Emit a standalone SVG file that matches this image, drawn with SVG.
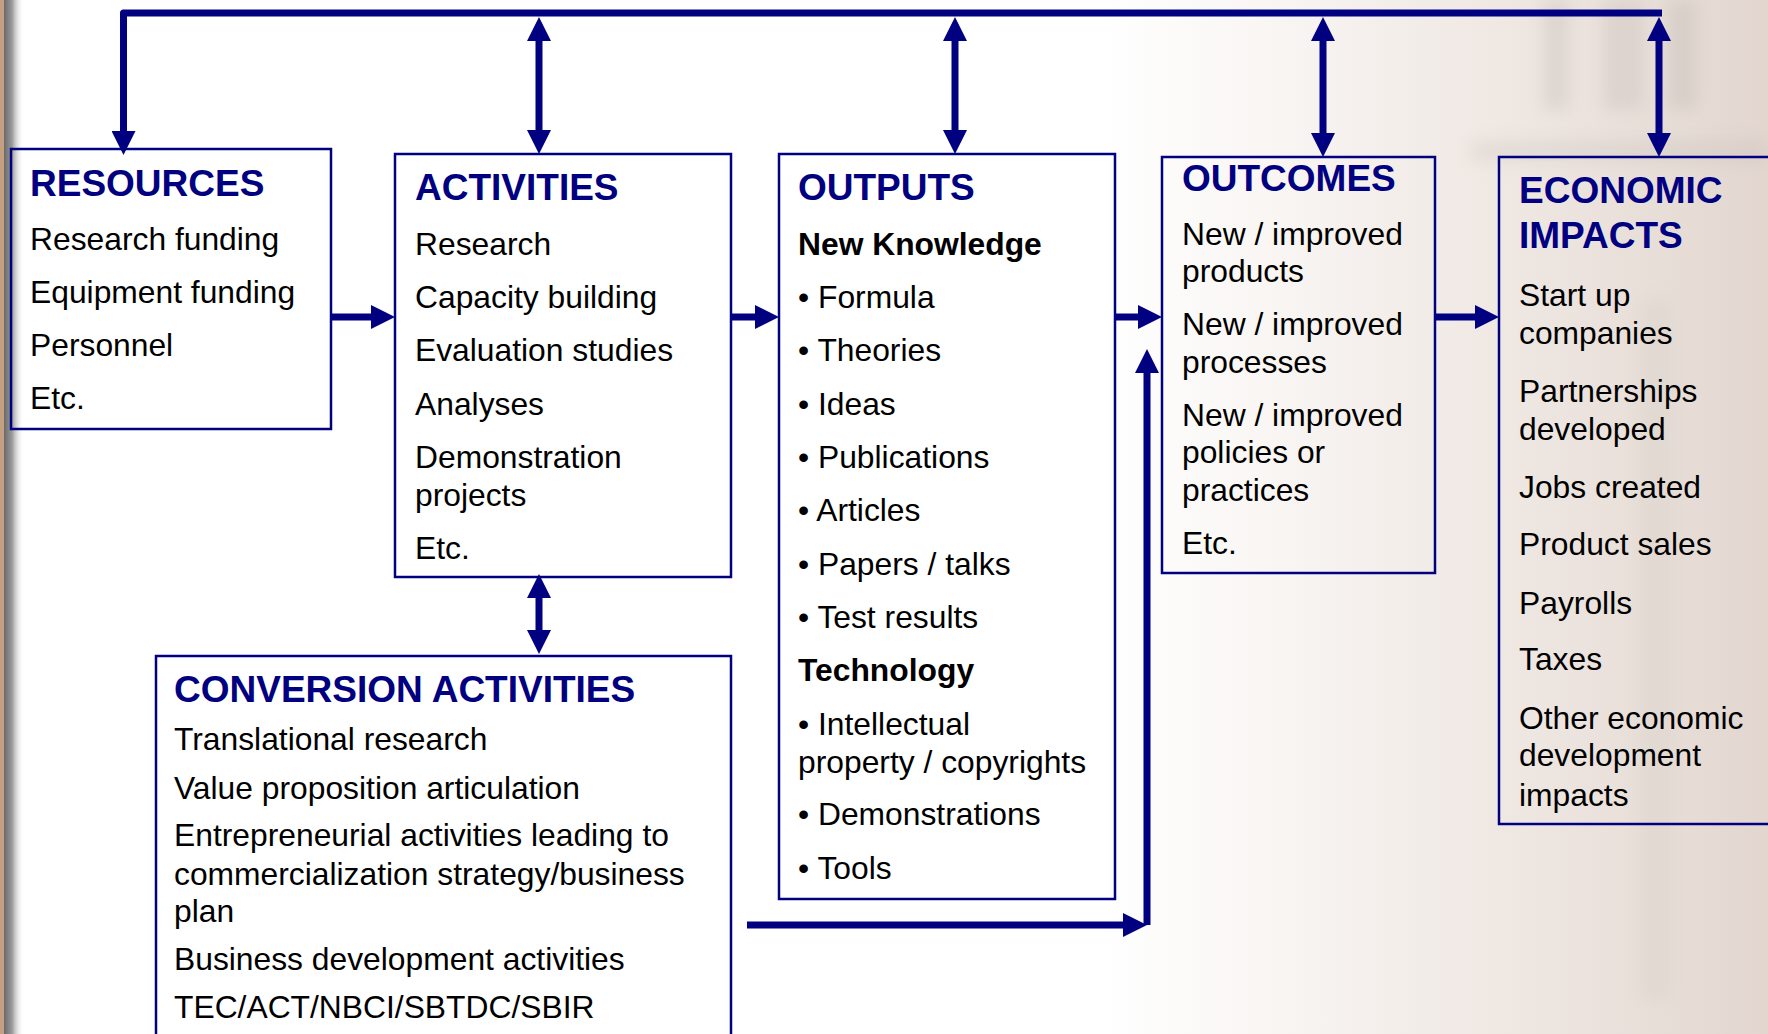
<svg xmlns="http://www.w3.org/2000/svg" width="1768" height="1034" viewBox="0 0 1768 1034">
<style>
.box{fill:none;stroke:#000080;stroke-width:2.5}
.ttl{font-family:"Liberation Sans",Arial,sans-serif;font-weight:bold;font-size:37px;fill:#000080}
.txt{font-family:"Liberation Sans",Arial,sans-serif;font-size:31.8px;fill:#000}
.bt{font-family:"Liberation Sans",Arial,sans-serif;font-weight:bold;font-size:31.8px;fill:#000}
.con{fill:none;stroke:#000080;stroke-width:7}
</style>
<defs>
<linearGradient id="bgR" x1="0" y1="0" x2="1" y2="0">
<stop offset="0" stop-color="#efe6e0" stop-opacity="0"/>
<stop offset="0.5" stop-color="#ece3dd" stop-opacity="0.7"/>
<stop offset="1" stop-color="#e2d6cf"/>
</linearGradient>
<linearGradient id="bgL" x1="0" y1="0" x2="1" y2="0">
<stop offset="0" stop-color="#6a6a6a"/>
<stop offset="0.4" stop-color="#9a9a9a"/>
<stop offset="1" stop-color="#ffffff" stop-opacity="0"/>
</linearGradient>
<filter id="blur" x="-20%" y="-20%" width="140%" height="140%"><feGaussianBlur stdDeviation="8"/></filter>
<marker id="ah" viewBox="0 0 24 24" markerUnits="userSpaceOnUse" markerWidth="24" markerHeight="24" refX="12" refY="12" orient="auto-start-reverse">
<path d="M0,0 L24,12 L0,24 z" fill="#000080"/>
</marker>
</defs>
<rect x="0" y="0" width="1768" height="1034" fill="#ffffff"/>
<rect x="1100" y="0" width="668" height="1034" fill="url(#bgR)"/>
<g filter="url(#blur)" opacity="0.18">
<rect x="1543" y="0" width="26" height="110" fill="#9a948f"/>
<rect x="1603" y="0" width="40" height="110" fill="#a09a95"/>
<rect x="1667" y="0" width="30" height="110" fill="#9a948f"/>
<rect x="1470" y="140" width="298" height="22" fill="#b0aaa5"/>
<rect x="1640" y="300" width="30" height="700" fill="#c8c0ba"/>
</g>
<rect x="0" y="0" width="4" height="1034" fill="#c4a080"/>
<rect x="4" y="0" width="20" height="1034" fill="url(#bgL)"/>

<g id="resources">
<rect class="box" x="11" y="149" width="320" height="280"/>
<text class="ttl" x="30" y="196">RESOURCES</text>
<text class="txt" x="30" y="250">Research funding</text>
<text class="txt" x="30" y="303">Equipment funding</text>
<text class="txt" x="30" y="356">Personnel</text>
<text class="txt" x="30" y="409">Etc.</text>
</g>

<g id="activities">
<rect class="box" x="395" y="154" width="336" height="423"/>
<text class="ttl" x="415" y="200">ACTIVITIES</text>
<text class="txt" x="415" y="255">Research</text>
<text class="txt" x="415" y="308">Capacity building</text>
<text class="txt" x="415" y="361">Evaluation studies</text>
<text class="txt" x="415" y="415">Analyses</text>
<text class="txt" x="415" y="468">Demonstration</text>
<text class="txt" x="415" y="505.5">projects</text>
<text class="txt" x="415" y="558.5">Etc.</text>
</g>

<g id="outputs">
<rect class="box" x="779" y="154" width="336" height="745"/>
<text class="ttl" x="798" y="200">OUTPUTS</text>
<text class="bt" x="798" y="255">New Knowledge</text>
<text class="txt" x="798" y="308">• Formula</text>
<text class="txt" x="798" y="361">• Theories</text>
<text class="txt" x="798" y="415">• Ideas</text>
<text class="txt" x="798" y="468">• Publications</text>
<text class="txt" x="798" y="521">• Articles</text>
<text class="txt" x="798" y="575">• Papers / talks</text>
<text class="txt" x="798" y="628">• Test results</text>
<text class="bt" x="798" y="681">Technology</text>
<text class="txt" x="798" y="735">• Intellectual</text>
<text class="txt" x="798" y="773">property / copyrights</text>
<text class="txt" x="798" y="825">• Demonstrations</text>
<text class="txt" x="798" y="879">• Tools</text>
</g>

<g id="outcomes">
<rect class="box" x="1162" y="157" width="273" height="416"/>
<text class="ttl" x="1182" y="191">OUTCOMES</text>
<text class="txt" x="1182" y="245">New / improved</text>
<text class="txt" x="1182" y="282">products</text>
<text class="txt" x="1182" y="335">New / improved</text>
<text class="txt" x="1182" y="372.5">processes</text>
<text class="txt" x="1182" y="425.5">New / improved</text>
<text class="txt" x="1182" y="463">policies or</text>
<text class="txt" x="1182" y="501">practices</text>
<text class="txt" x="1182" y="554">Etc.</text>
</g>

<g id="economic-impacts">
<rect class="box" x="1499" y="157" width="280" height="667"/>
<text class="ttl" x="1519" y="202.5">ECONOMIC</text>
<text class="ttl" x="1519" y="247.5">IMPACTS</text>
<text class="txt" x="1519" y="306">Start up</text>
<text class="txt" x="1519" y="344">companies</text>
<text class="txt" x="1519" y="402">Partnerships</text>
<text class="txt" x="1519" y="440">developed</text>
<text class="txt" x="1519" y="497.5">Jobs created</text>
<text class="txt" x="1519" y="555">Product sales</text>
<text class="txt" x="1519" y="614">Payrolls</text>
<text class="txt" x="1519" y="670">Taxes</text>
<text class="txt" x="1519" y="729">Other economic</text>
<text class="txt" x="1519" y="766">development</text>
<text class="txt" x="1519" y="805.5">impacts</text>
</g>

<g id="conversion-activities">
<rect class="box" x="156" y="656" width="575" height="400"/>
<text class="ttl" x="174" y="702">CONVERSION ACTIVITIES</text>
<text class="txt" x="174" y="750">Translational research</text>
<text class="txt" x="174" y="799">Value proposition articulation</text>
<text class="txt" x="174" y="846">Entrepreneurial activities leading to</text>
<text class="txt" x="174" y="884.5">commercialization strategy/business</text>
<text class="txt" x="174" y="922">plan</text>
<text class="txt" x="174" y="970">Business development activities</text>
<text class="txt" x="174" y="1017.5">TEC/ACT/NBCI/SBTDC/SBIR</text>
</g>

<g id="connectors">
<path class="con" d="M123.5,143 V13 H1662" stroke-linejoin="round" marker-start="url(#ah)"/>
<line class="con" x1="539" y1="29" x2="539" y2="142" marker-start="url(#ah)" marker-end="url(#ah)"/>
<line class="con" x1="955" y1="29" x2="955" y2="142" marker-start="url(#ah)" marker-end="url(#ah)"/>
<line class="con" x1="1323" y1="29" x2="1323" y2="145" marker-start="url(#ah)" marker-end="url(#ah)"/>
<line class="con" x1="1659" y1="29" x2="1659" y2="145" marker-start="url(#ah)" marker-end="url(#ah)"/>
<line class="con" x1="331" y1="317" x2="383" y2="317" marker-end="url(#ah)"/>
<line class="con" x1="731" y1="317" x2="767" y2="317" marker-end="url(#ah)"/>
<line class="con" x1="1115" y1="317" x2="1150" y2="317" marker-end="url(#ah)"/>
<line class="con" x1="1435" y1="317" x2="1487" y2="317" marker-end="url(#ah)"/>
<line class="con" x1="539" y1="586" x2="539" y2="642" marker-start="url(#ah)" marker-end="url(#ah)"/>
<line class="con" x1="747" y1="925" x2="1135" y2="925" marker-end="url(#ah)"/>
<line class="con" x1="1147" y1="925" x2="1147" y2="361" marker-end="url(#ah)"/>
</g>
</svg>
